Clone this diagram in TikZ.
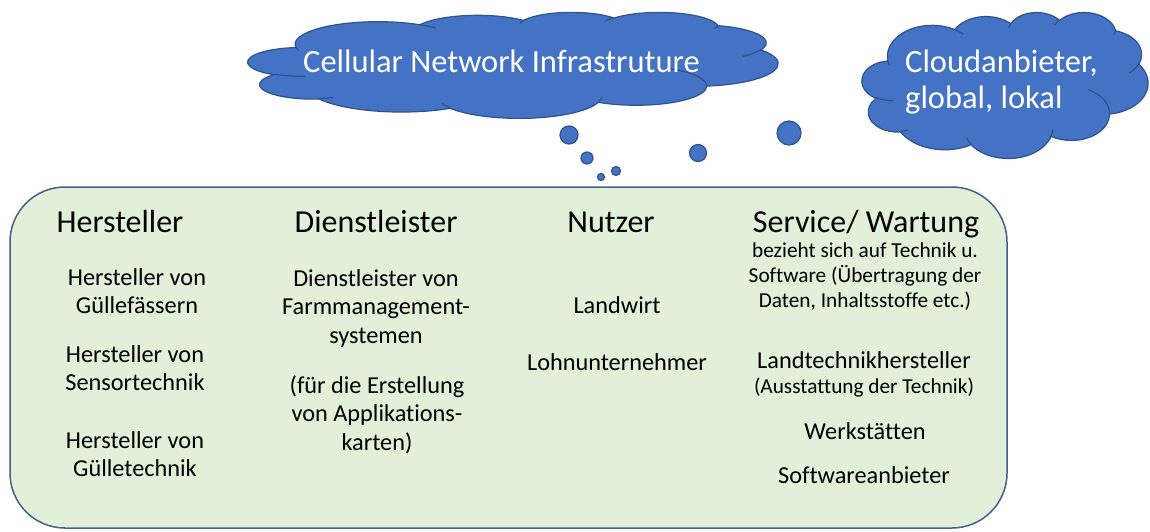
\documentclass[tikz,border=0pt]{standalone}
\usepackage{fontspec}
\setmainfont{Carlito}[Ligatures=NoCommon]

\definecolor{cloudblue}{HTML}{4472C4}
\definecolor{cloudedge}{HTML}{2F528F}
\definecolor{panelgreen}{HTML}{E2F0D9}
\definecolor{paneledge}{HTML}{41618A}

\tikzset{
  cloudshape/.style={fill=cloudblue, draw=cloudedge, line width=1.2pt},
  bubble/.style={fill=cloudblue, draw=cloudedge, line width=1.2pt},
  panel/.style={fill=panelgreen, draw=paneledge, line width=1.5pt, rounded corners=55pt},
  cloudtext/.style={text=white, font=\fontsize{32.5}{36}\selectfont, inner sep=0pt, anchor=base west},
  colhead/.style={font=\fontsize{32}{38}\selectfont, inner sep=0pt, anchor=base},
  item/.style={font=\fontsize{24.3}{28.5}\selectfont, inner sep=0pt, anchor=base},
  smallitem/.style={font=\fontsize{21.3}{25}\selectfont, inner sep=0pt, anchor=base},
}

% lines of a node, baseline on the first line
\newcommand\stack[1]{\begin{tabular}[t]{@{}c@{}}#1\end{tabular}}

% arc angles: visual angle -> ellipse parameter
\newcommand\cloudangles{%
  \pgfmathsetmacro\ta{atan2(\rw*sin(\st),\rh*cos(\st))}%
  \pgfmathsetmacro\tb{atan2(\rw*sin(\st+\sw),\rh*cos(\st+\sw))}%
  \pgfmathsetmacro\td{mod(\tb-\ta+720,360)}}

% office style cloud in a 432 x 432 box; #1,#2 top left, #3 width, #4 height
\newcommand\officecloud[4]{%
  \begin{scope}[shift={(#1,#2)}, xscale=#3/432, yscale=#4/432]
    \filldraw[cloudshape] (39.00,143.70)
      \foreach \rw/\rh/\st/\sw in {67.53/91.90/-190.4875/123.7805, 53.33/72.67/-144.1024/89.9452,
          43.65/59.45/-145.8079/99.7230, 48.57/65.95/-130.9861/117.2417,
          53.33/72.73/-78.7089/109.0269, 67.75/92.20/-46.2673/130.2690,
          57.85/78.67/0.6250/114.0333, 67.52/92.15/22.4516/115.1726,
          77.20/105.43/66.2426/75.7110, 43.60/59.18/-274.9421/146.7356,
          43.45/59.45/-246.8285/152.5189}
        {\pgfextra{\cloudangles} arc[start angle=\ta, delta angle=\td, x radius=\rw, y radius=\rh]}
      -- cycle;
    % inner puff lines
    \draw[cloudshape, fill=none]
      \foreach \px/\py/\rw/\rh/\st/\sw in {46.93/261.77/43.45/59.45/86.7420/26.4295,
          69.28/348.99/43.60/59.18/73.6105/11.4475, 164.78/390.90/67.52/92.15/137.6242/14.0811,
          288.27/347.51/67.52/92.15/6.4533/15.9984, 341.29/229.54/57.85/78.67/-70.2924/70.9174,
          417.98/153.54/53.33/72.73/30.3180/27.7515, 383.24/54.26/48.57/65.95/13.7443/14.8589,
          290.78/39.52/48.57/65.95/-149.1815/18.1954, 221.41/47.20/43.65/59.45/-163.4943/17.6864,
          140.00/51.92/67.53/91.90/-66.7070/12.3194, 41.27/157.89/67.53/91.90/157.6544/11.8582}
        {(\px,\py) \pgfextra{\cloudangles} arc[start angle=\ta, delta angle=\td, x radius=\rw, y radius=\rh]};
  \end{scope}}

\begin{document}
\begin{tikzpicture}[x=1pt, y=-1pt]
  \useasboundingbox (0,0) rectangle (1150,531);

  % clouds
  \officecloud{248}{12}{530}{106}
  \officecloud{862}{12}{286}{146}
  \node[cloudtext] (cellular) at (303,72) {Cellular Network Infrastruture};
  \node[cloudtext] (cloudanbieter) at (905,72)
    {\begin{tabular}[t]{@{}l@{}}Cloudanbieter,\\ global, lokal\end{tabular}};

  % thought bubbles
  \foreach \bx/\by/\br in {569/135/9, 587/158/6, 601/177/3.5, 616/171/4.5, 698/153/8.5, 789/133/12}
    \filldraw[bubble] (\bx,\by) circle[radius=\br];

  % green panel with the four groups
  \filldraw[panel] (10,187) rectangle (1007,528);

  \node[colhead] (hersteller) at (120,232) {Hersteller};
  \node[item] (guellefass) at (137,285) {\stack{Hersteller von\\ Güllefässern}};
  \node[item] (sensorik) at (135,362) {\stack{Hersteller von\\ Sensortechnik}};
  \node[item] (guelletechnik) at (135,448) {\stack{Hersteller von\\ Gülletechnik}};

  \node[colhead] (dienstleister) at (376,232) {Dienstleister};
  \node[item] (fms) at (376,286) {\stack{Dienstleister von\\ Farmmanagement-\\ systemen}};
  \node[item] (applikation) at (377,393) {\stack{(für die Erstellung\\ von Applikations-\\ karten)}};

  \node[colhead] (nutzer) at (611,232) {Nutzer};
  \node[item] (landwirt) at (617,313) {Landwirt};
  \node[item] (lohnunternehmer) at (617,370) {Lohnunternehmer};

  \node[colhead] (service) at (866,232) {Service/ Wartung};
  \node[smallitem] (bezug) at (865,257)
    {\stack{bezieht sich auf Technik u.\\ Software (Übertragung der\\ Daten, Inhaltsstoffe etc.)}};
  \node[item] (landtechnik) at (864,368) {Landtechnikhersteller};
  \node[smallitem] (ausstattung) at (864,393) {(Ausstattung der Technik)};
  \node[item] (werkstatt) at (865,439) {Werkstätten};
  \node[item] (softwareanbieter) at (864,483) {Softwareanbieter};
\end{tikzpicture}
\end{document}
